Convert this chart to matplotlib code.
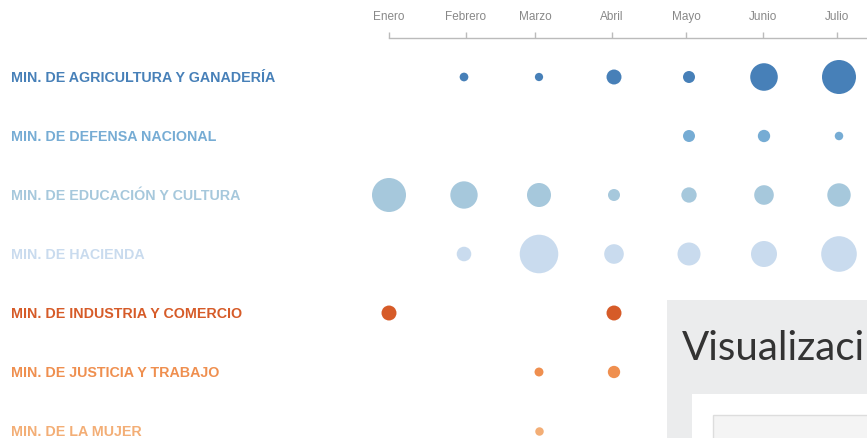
import matplotlib
matplotlib.use("Agg")
import matplotlib.pyplot as plt
from matplotlib.patches import Rectangle
import matplotlib.transforms as mtransforms

# months shown on the top axis
months = ['Enero', 'Febrero', 'Marzo', 'Abril', 'Mayo', 'Junio', 'Julio']
# start of each month, in days from Jan 1st
month_start_days = [0, 31, 59, 90, 120, 151, 181]

ministries = [
    'MIN. DE AGRICULTURA Y GANADERÍA',
    'MIN. DE DEFENSA NACIONAL',
    'MIN. DE EDUCACIÓN Y CULTURA',
    'MIN. DE HACIENDA',
    'MIN. DE INDUSTRIA Y COMERCIO',
    'MIN. DE JUSTICIA Y TRABAJO',
    'MIN. DE LA MUJER',
]
colors = ['#4780b8', '#76acd4', '#a6c8dc', '#c9dbee', '#d65b28', '#ef8f4f', '#f3ae76']

# amount per ministry and month (None = no data)
values = [
    [None, 19, 17, 56, 36, 190, 289],
    [None, None, None, None, 36, 38, 18],
    [289, 187, 144, 36, 59, 96, 137],
    [None, 53, 372, 96, 132, 169, 317],
    [56, None, None, 56, None, None, None],
    [None, None, 20, 38, None, None, None],
    [None, None, 18, None, None, None, None],
]

W, H = 867, 438
fig = plt.figure(figsize=(W / 100, H / 100), dpi=100)
axis_px = 38
ax = fig.add_axes([0, 0, 1, (H - axis_px) / H])

unit_px = 75
x0_px = 389
row0_px, row_px = 77, 59
ax.set_xlim(-x0_px / unit_px, (W - x0_px) / unit_px)
ax.set_ylim((H - row0_px) / row_px, -(row0_px - axis_px) / row_px)

# bubble columns are evenly spaced, the axis ticks follow the calendar
day_unit = 30.3
tick_pos = [d / day_unit for d in month_start_days]

px2 = (2 * 0.72) ** 2
for i, row in enumerate(values):
    xs = [j for j, v in enumerate(row) if v is not None]
    ss = [row[j] * px2 for j in xs]
    ax.scatter(xs, [i] * len(xs), s=ss, color=colors[i], linewidths=0,
               clip_on=False, zorder=2)

label_tr = mtransforms.blended_transform_factory(fig.transFigure, ax.transData)
for i, name in enumerate(ministries):
    ax.text(11 / W, i + 0.01, name, transform=label_tr, color=colors[i],
            fontsize=10.3, fontweight='bold', family='Liberation Sans',
            va='center', ha='left')

# top time axis
for side in ['left', 'right', 'bottom']:
    ax.spines[side].set_visible(False)
ax.spines['top'].set_color('#bbbbbb')
ax.spines['top'].set_linewidth(1)
ax.spines['top'].set_bounds(0, 10)
ax.xaxis.set_ticks_position('top')
ax.set_xticks(tick_pos)
ax.set_xticklabels(months)
ax.tick_params(axis='x', direction='out', length=4, width=1, color='#bbbbbb',
               labelcolor='#888888', labelsize=8.5, pad=6.5)
for t in ax.get_xticklabels():
    t.set_family('Liberation Sans')
ax.set_yticks([])

# overlaid page panel in the lower right
fig.patches.append(Rectangle((667 / W, 0), 1, (H - 300) / H, transform=fig.transFigure,
                             facecolor='#ebeced', edgecolor='none', zorder=5))
fig.patches.append(Rectangle((692 / W, 0), 1, (H - 394) / H, transform=fig.transFigure,
                             facecolor='white', edgecolor='none', zorder=6))
fig.patches.append(Rectangle((713 / W, -0.01), 1, (H - 415) / H + 0.01,
                             transform=fig.transFigure, facecolor='#f4f4f4',
                             edgecolor='#dddddd', linewidth=1, zorder=7))
fig.text(682 / W, (H - 360) / H, 'Visualizaci', family='Lato',
         fontsize=29, color='#333333', ha='left', va='baseline', zorder=8)

fig.savefig('out.png', dpi=100)
